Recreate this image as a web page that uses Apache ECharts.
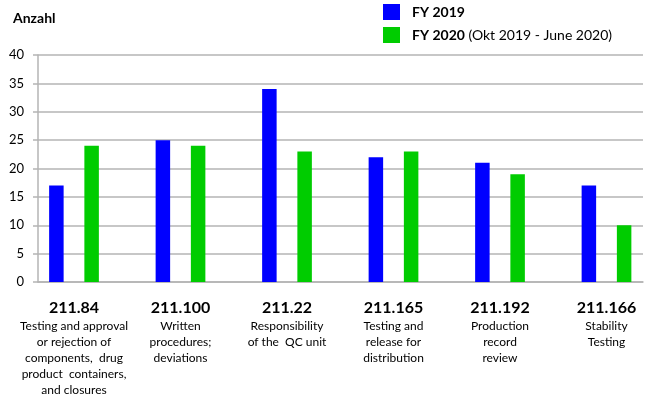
<!DOCTYPE html>
<html>
<head>
<meta charset="utf-8">
<script src="https://cdn.jsdelivr.net/npm/echarts@6/dist/echarts.min.js"></script>
<style>html,body{margin:0;padding:0;background:#fff}#c{width:650px;height:394px}</style>
</head>
<body>
<div id="c"></div>
<script>
const codes = ['211.84', '211.100', '211.22', '211.165', '211.192', '211.166'];
const descriptions = [
  ['Testing and approval', 'or rejection of', 'components,  drug', 'product  containers,', 'and closures'],
  ['Written', 'procedures;', 'deviations'],
  ['Responsibility', 'of the  QC unit'],
  ['Testing and', 'release for', 'distribution'],
  ['Production', 'record', 'review'],
  ['Stability', 'Testing']
];
const fy2019 = [17, 25, 34, 22, 21, 17];
const fy2020 = [24, 24, 23, 23, 19, 10];
const yTicks = { min: 0, max: 40, interval: 5 };

const FONT = 'Lato, "Liberation Sans", sans-serif';
const chart = echarts.init(document.getElementById('c'), null, { renderer: 'canvas' });
chart.setOption({
  animation: false,
  textStyle: { fontFamily: FONT },
  title: {
    text: 'Anzahl', left: 13, top: 11, padding: 0,
    textStyle: { fontSize: 14, fontWeight: 'bold', color: '#000', fontFamily: FONT }
  },
  legend: {
    orient: 'vertical', left: 383, top: 4, padding: 0, itemWidth: 17, itemHeight: 16, itemGap: 7,
    icon: 'rect',
    textStyle: {
      fontSize: 14, lineHeight: 16, color: '#000', fontFamily: FONT, padding: [0, 0, 0, 7],
      rich: { b: { fontWeight: 'bold', fontSize: 14, lineHeight: 16, color: '#000', fontFamily: FONT } }
    },
    formatter: function (name) {
      if (name === 'FY 2020') return '{b|FY 2020} (Okt 2019 - June 2020)';
      return '{b|' + name + '}';
    },
    data: ['FY 2019', 'FY 2020']
  },
  grid: [
    { left: 38, right: 7, top: 55, bottom: 112, outerBoundsMode: 'none', containLabel: false },
    { left: 20.75, width: 639, top: 55, bottom: 112, outerBoundsMode: 'none', containLabel: false }
  ],
  xAxis: [
    {
      gridIndex: 0, type: 'value', min: 0, max: 1,
      axisLine: { show: true, lineStyle: { color: '#b4b4b4', width: 1.5 } },
      axisTick: { show: false }, axisLabel: { show: false }, splitLine: { show: false }
    },
    {
      gridIndex: 1, type: 'category', data: codes,
      axisLine: { show: false }, axisTick: { show: false },
      axisLabel: {
        interval: 0, margin: 16, color: '#000',
        formatter: function (v, i) {
          return '{a|' + v + '}\n' + descriptions[i].map(s => '{b|' + s + '}').join('\n');
        },
        rich: {
          a: { fontSize: 16, fontWeight: 'bold', lineHeight: 20, color: '#000', fontFamily: FONT, align: 'center' },
          b: { fontSize: 12, lineHeight: 16, color: '#000', fontFamily: FONT, align: 'center' }
        }
      }
    }
  ],
  yAxis: [
    {
      gridIndex: 0, type: 'value', min: yTicks.min, max: yTicks.max, interval: yTicks.interval,
      axisLine: { show: true, lineStyle: { color: '#b4b4b4', width: 1.5 } },
      axisTick: { show: true, length: 5, lineStyle: { color: '#b4b4b4', width: 1.5 } },
      axisLabel: { margin: 14, fontSize: 13, color: '#000', fontFamily: FONT },
      splitLine: { show: true, lineStyle: { color: '#b4b4b4', width: 1.5 } }
    },
    {
      gridIndex: 1, type: 'value', min: yTicks.min, max: yTicks.max, interval: yTicks.interval,
      show: false, splitLine: { show: false }
    }
  ],
  series: [
    {
      name: 'FY 2019', type: 'bar', xAxisIndex: 1, yAxisIndex: 1, data: fy2019,
      barWidth: 14.5, barGap: '143%', itemStyle: { color: '#0000ff' }
    },
    {
      name: 'FY 2020', type: 'bar', xAxisIndex: 1, yAxisIndex: 1, data: fy2020,
      barWidth: 14.5, barGap: '143%', itemStyle: { color: '#00cc00' }
    }
  ]
});
</script>
</body>
</html>
